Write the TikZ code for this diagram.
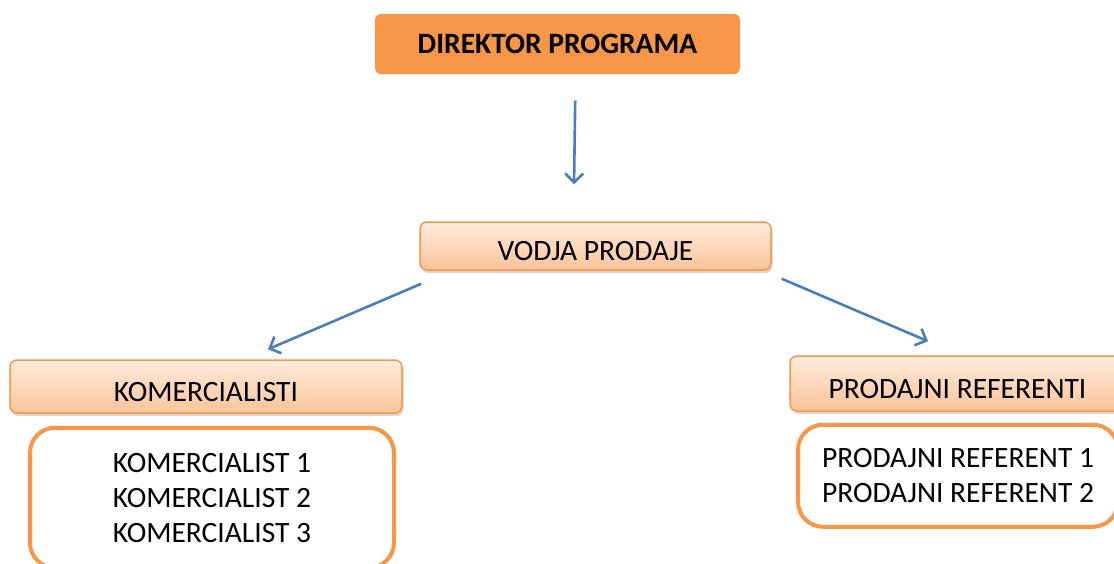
\documentclass[tikz,border=0pt]{standalone}
\usepackage{fontspec}
\setmainfont{Carlito}
\usepackage{tikz}
\usetikzlibrary{positioning,calc,fit,backgrounds,shadows,arrows.meta}
\definecolor{orangeline}{HTML}{F79646}
\definecolor{headtop}{HTML}{FEEBDC}
\definecolor{headbot}{HTML}{FBC49A}
\definecolor{arrowblue}{HTML}{4A7EBB}
\tikzset{bigfont/.style={font=\fontsize{29.5pt}{35pt}\selectfont}}
\tikzset{dirbox/.style={rectangle, rounded corners=6pt, fill=orangeline, font=\fontsize{29.5pt}{35pt}\selectfont\bfseries,
		minimum width=365pt, minimum height=60pt, inner sep=0pt}}
\tikzset{hdrbox/.style={rectangle, rounded corners=7pt, draw=orangeline, line width=1.5pt,
		top color=headtop, bottom color=headbot, bigfont, inner sep=0pt,
		text height=29pt, text depth=0pt,
		drop shadow={shadow xshift=1.5pt, shadow yshift=-3pt, opacity=0.3}}}
\tikzset{listbox/.style={rectangle, rounded corners=25pt, draw=orangeline, line width=4pt,
		fill=white, bigfont, align=center, inner sep=0pt}}
\tikzset{conn/.style={draw=arrowblue, line width=2.6pt, -{Straight Barb[length=9pt,width=18pt]}}}

\begin{document}
\begin{tikzpicture}[x=1pt, y=-1pt]
	\clip (0,0) rectangle (1114,563);
	\fill[white] (0,0) rectangle (1114,563);
	
	% top
	\node[dirbox] (dir) at (557.5,44) {DIREKTOR PROGRAMA};
	\begin{scope}[on background layer]
		\node[fit=(dir), inner xsep=8pt, inner ysep=6pt, rectangle, rounded corners=10pt, fill=white,
		draw=black!10, line width=1pt,
		drop shadow={shadow xshift=1pt, shadow yshift=-3pt, opacity=0.45}] (dirframe) {};
	\end{scope}
	
	% headers
	\node[hdrbox, minimum width=351pt, minimum height=48pt] (vodja) at (595.5,246) {VODJA PRODAJE};
	\node[hdrbox, minimum width=392pt, minimum height=53pt] (komer) at (206,386.5) {KOMERCIALISTI};
	\node[hdrbox, minimum width=335pt, minimum height=55pt] (prodref) at (957.5,383.5) {PRODAJNI REFERENTI};
	
	% lists
	\node[listbox, below=12pt of komer, xshift=6pt, minimum width=364pt, minimum height=140pt] (komlist)
	{KOMERCIALIST 1\\KOMERCIALIST 2\\KOMERCIALIST 3};
	\node[listbox, below=11pt of prodref, xshift=0.5pt, minimum width=320pt, minimum height=102pt] (prodlist)
	{PRODAJNI REFERENT 1\\PRODAJNI REFERENT 2};
	
	% arrows
	\draw[conn, shorten <=20pt, shorten >=37pt] ([xshift=18pt]dirframe.south) -- ([xshift=-22pt]vodja.north);
	\draw[conn] ($(vodja.south west)+(2,13)$) -- ($(komer.north)+(62,-10)$);
	\draw[conn] ($(vodja.south east)+(10,8)$) -- ($(prodref.north)+(-29.5,-14)$);
	
\end{tikzpicture}
\end{document}
